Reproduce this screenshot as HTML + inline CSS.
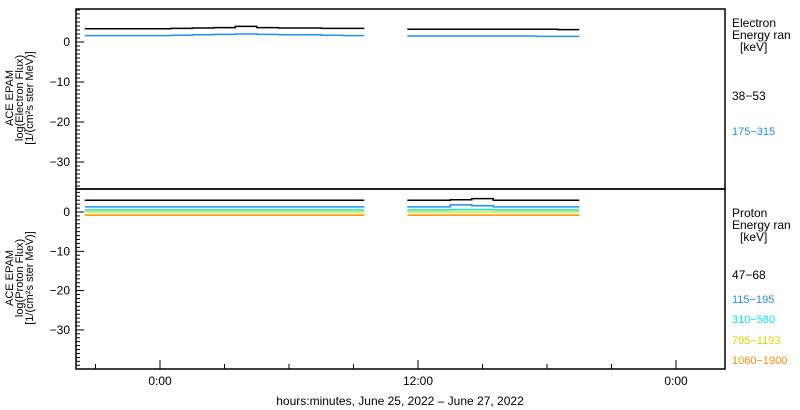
<!DOCTYPE html>
<html><head><meta charset="utf-8"><style>
body{margin:0;background:#fff;}
svg{display:block;font-family:"Liberation Sans",sans-serif;}
</style></head><body>
<svg id="chart" width="800" height="410" viewBox="0 0 800 410" xmlns="http://www.w3.org/2000/svg">
<g id="marks"></g>
<g id="axes"></g>
</svg>
<script>
// data: hourly samples (hours relative to June 26 0:00)
const times = [-3,-2,-1,0,1,2,3,4,5,6,7,8,9,10,11,12,13,14,15,16,17,18,19];
const electron38 = [3.3,3.3,3.3,3.3,3.4,3.5,3.6,3.9,3.6,3.5,3.5,3.4,3.4,null,null,3.2,3.2,3.2,3.2,3.2,3.2,3.2,3.1];
const electron175 = [1.6,1.6,1.6,1.6,1.7,1.8,1.9,2.0,1.9,1.8,1.8,1.7,1.6,null,null,1.5,1.5,1.5,1.5,1.5,1.5,1.4,1.4];
const proton47 = [3.0,3.0,3.0,3.0,3.0,3.0,3.0,3.0,3.0,3.0,3.0,3.0,3.0,null,null,3.0,3.0,3.1,3.4,3.0,3.0,3.0,3.0];
const proton115 = [1.3,1.3,1.3,1.3,1.3,1.3,1.3,1.3,1.3,1.3,1.3,1.3,1.3,null,null,1.3,1.3,1.8,1.6,1.3,1.3,1.3,1.3];
const proton310 = [0.5,0.5,0.5,0.5,0.5,0.5,0.5,0.5,0.5,0.5,0.5,0.5,0.5,null,null,0.5,0.5,0.6,0.6,0.5,0.5,0.5,0.5];
const proton795 = [0.0,0.0,0.0,0.0,0.0,0.0,0.0,0.0,0.0,0.0,0.0,0.0,0.0,null,null,0.0,0.0,0.0,0.0,0.0,0.0,0.0,0.0];
const proton1060 = [-0.8,-0.8,-0.8,-0.8,-0.8,-0.8,-0.8,-0.8,-0.8,-0.8,-0.8,-0.8,-0.8,null,null,-0.8,-0.8,-0.8,-0.8,-0.8,-0.8,-0.8,-0.8];
const yTicks = [0,-10,-20,-30];
const xTickHours = [0,12,24];
const xTickLabels = ["0:00","12:00","0:00"];

const NS="http://www.w3.org/2000/svg";
const L=76,R=725;
const xs=h=>160+h*21.5;
const yE=v=>42-v*4;
const yP=v=>212-v*3.93;
const marks=document.getElementById('marks'), axes=document.getElementById('axes');
function el(tag,attrs,parent){const e=document.createElementNS(NS,tag);for(const k in attrs)e.setAttribute(k,attrs[k]);parent.appendChild(e);return e;}

function series(vals,ys,color,name){
  let d='';let pen=false;
  vals.forEach((v,i)=>{
    if(v===null){pen=false;return;}
    const x0=xs(times[i]-0.5),x1=xs(times[i]+0.5),y=ys(v);
    d+=(pen?'L':'M')+x0.toFixed(1)+' '+y.toFixed(1)+'L'+x1.toFixed(1)+' '+y.toFixed(1);
    pen=true;
  });
  const p=el('path',{d:d,fill:'none',stroke:color,'stroke-width':1.5},marks);
  
  
}
series(electron38,yE,'#000','electron-38-53-line');
series(electron175,yE,'#1e90ff','electron-175-315-line');
series(proton47,yP,'#000','proton-47-68-line');
series(proton115,yP,'#1e90ff','proton-115-195-line');
series(proton310,yP,'#00e5e5','proton-310-580-line');
series(proton795,yP,'#e5e500','proton-795-1193-line');
series(proton1060,yP,'#ff8c00','proton-1060-1900-line');

// frames
const f1=el('rect',{x:L,y:9,width:R-L,height:180,fill:'none',stroke:'#000','stroke-width':1.5},axes);

const f2=el('rect',{x:L,y:189,width:R-L,height:180,fill:'none',stroke:'#000','stroke-width':1.5},axes);


function yaxis(ys,top,bot,name){
  for(let v=-45;v<=10;v++){const y=ys(v);if(y<top+1||y>bot-1)continue;
    const major=v%10===0;
    el('line',{x1:L,x2:L+(major?8:4),y1:y,y2:y,stroke:'#000'},axes);}
  yTicks.forEach(v=>{const t=el('text',{x:L-6,y:ys(v)+4,'text-anchor':'end','font-size':12},axes);t.textContent=(v<0?'\u2212'+(-v):v);
    });
}
yaxis(yE,9,189,'electron-y');
yaxis(yP,189,369,'proton-y');

for(let h=-3;h<=26;h+=3){const x=xs(h);if(x<L||x>R)continue;const major=h%12===0;
  el('line',{x1:x,x2:x,y1:369,y2:369-(major?9:5),stroke:'#000'},axes);}
xTickHours.forEach((h,i)=>{const t=el('text',{x:xs(h),y:385,'text-anchor':'middle','font-size':12},axes);t.textContent=xTickLabels[i];
  });

function txt(x,y,s,opts,name){const t=el('text',Object.assign({x:x,y:y,'font-size':12},opts||{}),axes);t.textContent=s;
  return t;}
txt(400,405,'hours:minutes, June 25, 2022 \u2013 June 27, 2022',{'text-anchor':'middle'},'x-axis-title');
function ytitle(cy,lines,name){const g=el('g',{transform:'translate(0,'+cy+') rotate(-90)'},axes);
  
  lines.forEach((s,i)=>{const t=el('text',{x:0,y:13+i*10,'text-anchor':'middle','font-size':11},g);t.textContent=s;});}
ytitle(98,['ACE EPAM','log(Electron Flux)','[1/(cm\u00b2s ster MeV)]'],'electron-y-axis-title');
ytitle(278,['ACE EPAM','log(Proton Flux)','[1/(cm\u00b2s ster MeV)]'],'proton-y-axis-title');

txt(732,27,'Electron',{},'electron-legend-title');
txt(732,39,'Energy ran',{},'electron-legend-subtitle');
txt(740,51,'[keV]',{},'electron-legend-unit');
txt(732,100,'38\u221253',{},'legend-electron-38-53');
txt(732,135,'175\u2212315',{fill:'#1e90ff','font-size':11},'legend-electron-175-315');
txt(732,217,'Proton',{},'proton-legend-title');
txt(732,229,'Energy ran',{},'proton-legend-subtitle');
txt(740,241,'[keV]',{},'proton-legend-unit');
txt(732,279,'47\u221268',{},'legend-proton-47-68');
txt(732,303,'115\u2212195',{fill:'#1e90ff','font-size':11},'legend-proton-115-195');
txt(732,323,'310\u2212580',{fill:'#00e5e5','font-size':11},'legend-proton-310-580');
txt(732,344,'795\u22121193',{fill:'#d8d800','font-size':11},'legend-proton-795-1193');
txt(732,364,'1060\u22121900',{fill:'#ff8c00','font-size':11},'legend-proton-1060-1900');
</script>
</body></html>
